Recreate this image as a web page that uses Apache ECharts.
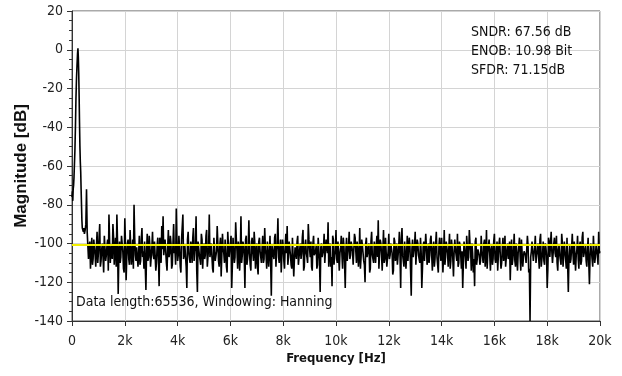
<!DOCTYPE html>
<html>
<head>
<meta charset="utf-8">
<script src="https://cdn.jsdelivr.net/npm/echarts@6/dist/echarts.min.js"></script>
<style>
  html, body { margin: 0; padding: 0; background: #fff; }
  #chart { width: 622px; height: 376px; }
</style>
</head>
<body>
<div id="chart"></div>
<script>
// spectrum around the signal tone (Hz / dB)
const peakFreq = [0, 15, 30, 45, 60, 75, 90, 110, 130, 150, 170, 190, 210, 225, 240, 255, 270, 285, 300, 315, 330, 345, 360, 375, 390, 410, 430, 450, 470];
const peakMag = [-76, -73, -78, -72, -70, -66, -60, -52, -40, -25, -15, -8, -2, 0.8, -4, -12, -24, -38, -50, -58, -63, -72, -80, -88, -92, -91, -94, -92, -95];

// noise floor, one value every 50 Hz starting at 500 Hz (one row = 1 kHz)
const floorStart = 500;
const floorStep = 50;
const floorMag = [
  -93, -72, -95, -101, -113, -97, -108, -99, -112, -94, -105, -90, -109, -100, -115, -95, -106, -98, -85, -110,
  -101, -90, -111, -97, -85, -126, -99, -107, -95, -113, -87, -119, -100, -108, -93, -111, -98, -80, -106, -102,
  -112, -96, -109, -92, -104, -99, -124, -95, -107, -101, -113, -94, -108, -98, -110, -97, -122, -100, -91, -86,
  -107, -99, -114, -93, -105, -100, -111, -90, -103, -82, -109, -96, -112, -98, -85, -106, -101, -123, -94, -108,
  -99, -110, -92, -104, -86, -125, -98, -107, -95, -113, -100, -106, -93, -111, -85, -104, -99, -115, -96, -108,
  -91, -109, -101, -117, -95, -105, -98, -112, -94, -107, -100, -123, -97, -110, -89, -104, -99, -114, -86, -106,
  -101, -123, -96, -108, -88, -111, -99, -105, -94, -113, -100, -116, -97, -107, -102, -110, -92, -106, -99, -112,
  -96, -127, -100, -108, -95, -104, -87, -110, -98, -106, -101, -113, -95, -91, -107, -99, -111, -97, -117, -102,
  -108, -96, -110, -100, -105, -93, -112, -98, -107, -90, -103, -99, -114, -96, -106, -101, -111, -97, -125, -100,
  -107, -95, -109, -99, -89, -104, -112, -122, -98, -106, -93, -110, -100, -105, -96, -113, -101, -123, -97, -108,
  -94, -106, -100, -111, -95, -104, -99, -112, -92, -107, -101, -109, -120, -97, -105, -100, -113, -94, -107, -99,
  -110, -96, -88, -105, -100, -114, -93, -108, -98, -111, -95, -106, -101, -116, -97, -109, -100, -112, -94, -123,
  -92, -107, -99, -113, -96, -110, -101, -127, -98, -106, -94, -112, -100, -108, -97, -123, -102, -109, -95, -111,
  -100, -106, -96, -114, -99, -108, -94, -111, -101, -105, -97, -115, -93, -107, -100, -112, -95, -109, -102, -117,
  -98, -106, -95, -110, -101, -113, -123, -99, -107, -96, -109, -93, -104, -100, -115, -122, -97, -108, -102, -111,
  -96, -107, -100, -112, -93, -105, -98, -114, -101, -108, -95, -110, -99, -106, -97, -113, -102, -109, -96, -111,
  -100, -106, -119, -98, -108, -95, -112, -101, -105, -97, -114, -99, -107, -103, -110, -96, -115, -140, -104, -98,
  -109, -96, -106, -100, -113, -95, -108, -99, -111, -102, -123, -97, -107, -94, -110, -100, -105, -96, -114, -101,
  -107, -95, -112, -99, -104, -97, -125, -101, -108, -95, -111, -100, -106, -96, -113, -99, -109, -94, -105, -101,
  -112, -97, -121, -100, -108, -96, -110, -101, -106, -94, -104
];
// in-between bins, 25 Hz after each floorMag bin
const floorMid = [
  -90, -94, -108, -99, -105, -111, -98, -106, -102, -110, -97, -112, -103, -107, -96, -109, -101, -114, -99, -104,
  -108, -97, -103, -112, -99, -106, -110, -96, -104, -115, -100, -107, -98, -111, -102, -105, -113, -97, -109, -101,
  -105, -111, -98, -107, -113, -100, -104, -109, -96, -112, -102, -106, -99, -114, -101, -108, -97, -110, -103, -106,
  -98, -110, -102, -107, -96, -113, -100, -105, -111, -99, -106, -103, -115, -97, -108, -101, -112, -98, -105, -110,
  -103, -97, -109, -101, -114, -99, -106, -111, -98, -104, -108, -96, -112, -102, -107, -100, -113, -97, -109, -104,
  -100, -112, -97, -106, -103, -110, -99, -115, -101, -108, -96, -111, -104, -107, -98, -113, -102, -105, -110, -99,
  -107, -98, -111, -103, -105, -114, -97, -109, -100, -106, -112, -99, -104, -110, -96, -108, -103, -113, -98, -105,
  -110, -101, -106, -97, -112, -100, -107, -103, -115, -98, -109, -102, -105, -111, -99, -106, -113, -97, -108, -104,
  -99, -111, -103, -108, -97, -114, -101, -105, -110, -98, -107, -112, -100, -106, -104, -113, -97, -109, -102, -107,
  -103, -110, -98, -105, -112, -100, -107, -96, -111, -104, -108, -99, -114, -102, -106, -97, -110, -103, -109, -101,
  -108, -99, -104, -112, -97, -110, -103, -106, -113, -98, -105, -111, -100, -107, -102, -115, -99, -106, -110, -104,
  -101, -107, -113, -98, -106, -103, -110, -97, -112, -104, -108, -100, -105, -114, -99, -107, -111, -102, -106, -98,
  -106, -112, -100, -105, -109, -97, -114, -103, -107, -101, -111, -98, -106, -110, -104, -113, -99, -108, -102, -107,
  -110, -98, -106, -103, -112, -100, -107, -115, -97, -109, -104, -106, -111, -99, -105, -102, -113, -98, -108, -104,
  -103, -109, -112, -99, -106, -104, -110, -98, -113, -102, -107, -100, -114, -105, -108, -99, -111, -103, -106, -109,
  -104, -110, -98, -107, -113, -101, -106, -103, -111, -99, -108, -105, -114, -100, -107, -110, -97, -106, -112, -103,
  -108, -99, -106, -111, -103, -109, -100, -114, -105, -107, -98, -112, -104, -106, -110, -101, -113, -107, -99, -109,
  -102, -110, -104, -107, -98, -112, -105, -109, -100, -106, -113, -99, -108, -104, -111, -97, -107, -110, -103, -106,
  -111, -100, -106, -104, -113, -98, -107, -110, -102, -105, -99, -114, -103, -108, -101, -111, -97, -107, -104, -109,
  -103, -110, -106, -99, -112, -104, -107, -101, -111, -105
];

const avgNoise = -100.5;
const xTicks = [0, 2000, 4000, 6000, 8000, 10000, 12000, 14000, 16000, 18000, 20000];
const statLines = ['SNDR: 67.56 dB', 'ENOB: 10.98 Bit', 'SFDR: 71.15dB'];
const infoText = 'Data length:65536, Windowing: Hanning';

//--------------------------------
// build series data
//--------------------------------
let spectrum = [];
for (let i = 0; i < peakFreq.length; i++) {
    spectrum.push([peakFreq[i], peakMag[i]]);
}
for (let i = 0; i < floorMag.length; i++) {
    spectrum.push([floorStart + i * floorStep, floorMag[i]]);
    if (i < floorMid.length) {
        spectrum.push([floorStart + i * floorStep + floorStep / 2, floorMid[i]]);
    }
}

const FONT = '"DejaVu Sans Condensed", "DejaVu Sans", sans-serif';

const myChart = echarts.init(document.getElementById('chart'), null, { renderer: 'canvas' });

let options = {
    animation: false,
    backgroundColor: '#fff',
    grid: {
        left: 72,
        right: 22,
        top: 11,
        bottom: 55,
        outerBoundsMode: 'none',
        containLabel: false,
        show: true,
        borderColor: '#555',
        borderWidth: 1,
        backgroundColor: 'transparent'
    },
    xAxis: {
        type: 'value',
        min: xTicks[0],
        max: xTicks[xTicks.length - 1],
        interval: 2000,
        name: 'Frequency [Hz]',
        nameLocation: 'middle',
        nameGap: 31,
        nameMoveOverlap: false,
        nameTextStyle: { fontFamily: FONT, fontSize: 13, fontWeight: 'bold', color: '#111' },
        axisLine: { show: true, onZero: false, lineStyle: { color: '#333' } },
        axisTick: { show: true, length: 5, lineStyle: { color: '#333' } },
        axisLabel: {
            fontFamily: FONT,
            fontSize: 14,
            color: '#222',
            margin: 13,
            formatter: (v) => (v === 0 ? '0' : (v / 1000) + 'k')
        },
        splitLine: { show: true, lineStyle: { color: '#d4d4d4', width: 1 } }
    },
    yAxis: {
        type: 'value',
        min: -140,
        max: 20,
        interval: 20,
        name: 'Magnitude [dB]',
        nameLocation: 'middle',
        nameGap: 42,
        nameMoveOverlap: false,
        nameTextStyle: { fontFamily: '"Liberation Sans", Arial, sans-serif', fontSize: 17, fontWeight: 'bold', color: '#111' },
        axisLine: { show: true, onZero: false, lineStyle: { color: '#333' } },
        axisTick: { show: true, length: 5, lineStyle: { color: '#333' } },
        minorTick: { show: true, splitNumber: 4, length: 3, lineStyle: { color: '#333' } },
        axisLabel: { fontFamily: FONT, fontSize: 14, color: '#222', margin: 9 },
        splitLine: { show: true, lineStyle: { color: '#d4d4d4', width: 1 } }
    },
    series: [
        {
            name: 'spectrum',
            type: 'line',
            data: spectrum,
            symbol: 'none',
            lineStyle: { color: '#000', width: 1.6 },
            silent: true,
            z: 3,
            markLine: {
                silent: true,
                symbol: 'none',
                label: { show: false },
                lineStyle: { color: '#f2ee00', width: 2, type: 'solid' },
                data: [{ yAxis: avgNoise }],
                z: 5
            }
        }
    ],
    graphic: [
        {
            type: 'text',
            left: 471,
            top: 23,
            z: 10,
            style: {
                text: statLines.join('\n'),
                font: '14px ' + FONT,
                fill: '#111',
                lineHeight: 19
            }
        },
        {
            type: 'text',
            left: 76,
            top: 295,
            z: 10,
            style: {
                text: infoText,
                font: '14px ' + FONT,
                fill: '#111'
            }
        }
    ]
};

myChart.setOption(options);
</script>
</body>
</html>
